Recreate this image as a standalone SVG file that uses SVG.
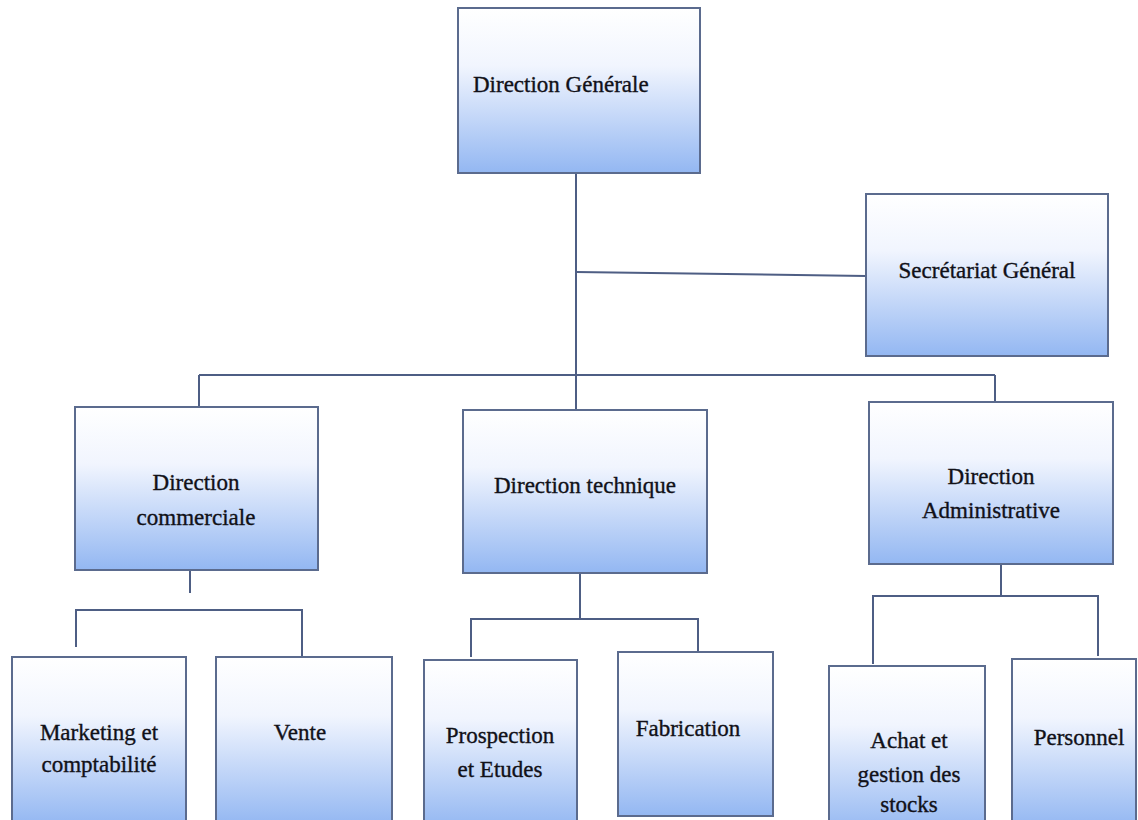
<svg xmlns="http://www.w3.org/2000/svg" width="1138" height="820" viewBox="0 0 1138 820">
  <defs>
    <linearGradient id="boxFill" x1="0" y1="0" x2="0" y2="1">
      <stop offset="0" stop-color="#ffffff"/>
      <stop offset="0.35" stop-color="#f1f5fe"/>
      <stop offset="1" stop-color="#93b7f2"/>
    </linearGradient>
    <style>
      .box { fill: url(#boxFill); stroke: #5b6b8e; stroke-width: 2; }
      .lbl { font-family: "Liberation Serif", "Times New Roman", serif; font-size: 23px; fill: #111118; stroke: #111118; stroke-width: 0.35; text-anchor: middle; }
      .lbl.start { text-anchor: start; }
      .conn { fill: none; stroke: #4e5e84; stroke-width: 2; }
    </style>
  </defs>

  <rect width="1138" height="820" fill="#ffffff"/>

  <!-- connectors -->
  <g id="connectors" class="conn">
    <path d="M576 173 V410"/>
    <path d="M576 272 L866 276"/>
    <path d="M199 375 H995"/>
    <path d="M199 375 V407"/>
    <path d="M995 375 V402"/>
    <path d="M190 562 V593"/>
    <path d="M76 647 V610 H302 V657"/>
    <path d="M580 573 V619"/>
    <path d="M471 657 V619 H698 V652"/>
    <path d="M1001 564 V595"/>
    <path d="M873 664 V596 H1098 V656"/>
  </g>

  <!-- top level -->
  <g id="direction-generale">
    <rect class="box" x="458" y="8" width="242" height="165"/>
    <text class="lbl start" x="473" y="92">Direction Générale</text>
  </g>

  <g id="secretariat-general">
    <rect class="box" x="866" y="194" width="242" height="162"/>
    <text class="lbl" x="987" y="278">Secrétariat Général</text>
  </g>

  <!-- directions -->
  <g id="direction-commerciale">
    <rect class="box" x="75" y="407" width="243" height="163"/>
    <text class="lbl" x="196" y="490">Direction</text>
    <text class="lbl" x="196" y="525">commerciale</text>
  </g>

  <g id="direction-technique">
    <rect class="box" x="463" y="410" width="244" height="163"/>
    <text class="lbl" x="585" y="493">Direction technique</text>
  </g>

  <g id="direction-administrative">
    <rect class="box" x="869" y="402" width="244" height="162"/>
    <text class="lbl" x="991" y="484">Direction</text>
    <text class="lbl" x="991" y="518">Administrative</text>
  </g>

  <!-- services -->
  <g id="marketing">
    <rect class="box" x="12" y="657" width="174" height="168"/>
    <text class="lbl" x="99" y="740">Marketing et</text>
    <text class="lbl" x="99" y="772">comptabilité</text>
  </g>

  <g id="vente">
    <rect class="box" x="216" y="657" width="176" height="168"/>
    <text class="lbl" x="300" y="740">Vente</text>
  </g>

  <g id="prospection">
    <rect class="box" x="424" y="660" width="153" height="168"/>
    <text class="lbl" x="500" y="743">Prospection</text>
    <text class="lbl" x="500" y="777">et Etudes</text>
  </g>

  <g id="fabrication">
    <rect class="box" x="618" y="652" width="155" height="164"/>
    <text class="lbl" x="688" y="736">Fabrication</text>
  </g>

  <g id="achat">
    <rect class="box" x="829" y="666" width="156" height="168"/>
    <text class="lbl" x="909" y="748">Achat et</text>
    <text class="lbl" x="909" y="782">gestion des</text>
    <text class="lbl" x="909" y="812">stocks</text>
  </g>

  <g id="personnel">
    <rect class="box" x="1012" y="659" width="124" height="168"/>
    <text class="lbl" x="1079" y="745">Personnel</text>
  </g>
</svg>
